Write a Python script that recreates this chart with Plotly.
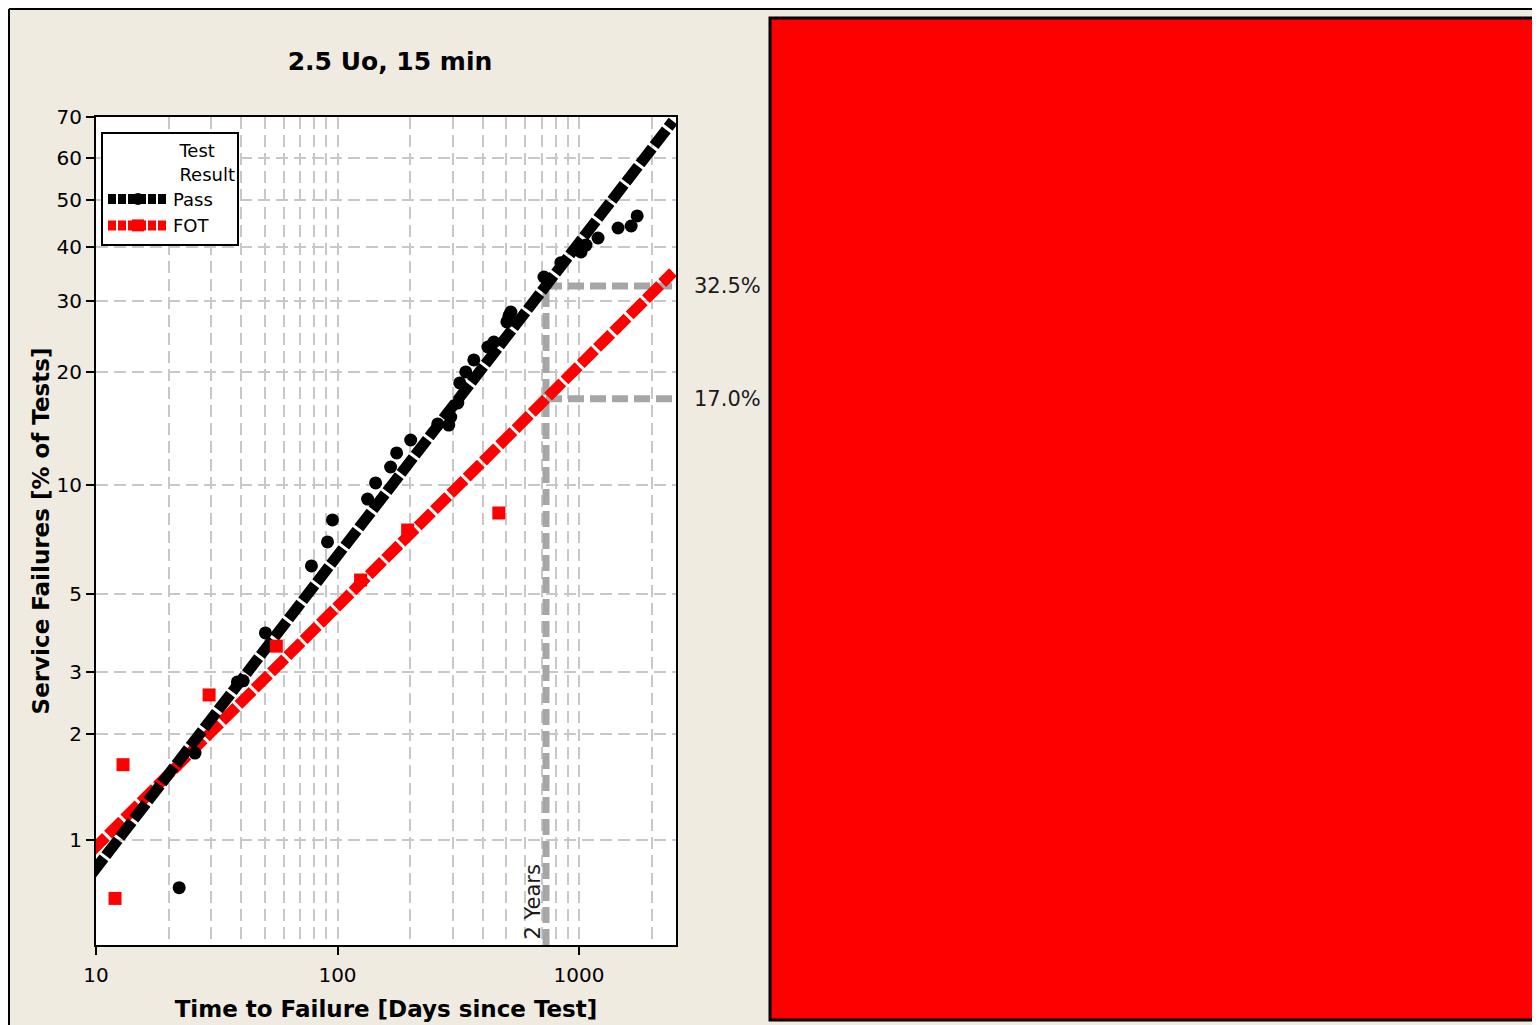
import numpy as np
import plotly.graph_objects as go

# ---------------- data ----------------
pass_days = [22.1, 25.7, 38.5, 40.7, 50.3, 78.0, 90.9, 95.3, 133.2, 143.8, 165.9, 175.7,
             200.9, 260.0, 288.8, 294.4, 314.8, 320.8, 339.7, 366.8, 419.3, 444.0, 502.6,
             512.4, 522.3, 715.9, 841.0, 1019.0, 1069.0, 1199.0, 1451.0, 1644.0, 1741.0]
pass_pct = [0.73, 1.77, 2.82, 2.84, 3.88, 5.98, 6.97, 8.02, 9.15, 10.13, 11.19, 12.21,
            13.23, 14.6, 14.5, 15.23, 16.58, 18.7, 19.96, 21.42, 23.1, 23.77, 26.66,
            27.57, 28.19, 34.13, 36.8, 38.9, 40.3, 41.75, 43.87, 44.3, 46.5]

fot_days = [11.99, 12.94, 29.4, 55.8, 124.6, 195.2, 465.6]
fot_pct = [0.68, 1.64, 2.59, 3.56, 5.46, 7.52, 8.38]

pass_fit_days = [9.6, 2450]
pass_fit_pct = [0.80, 69.0]
fot_fit_days = [9.6, 2450]
fot_fit_pct = [0.93, 35.0]

ref_days = 730          # 2 years
ref_pct = [32.5, 17.0]  # Pass, FOT at 2 years
ref_labels = ["32.5%", "17.0%"]

ytick_pct = [1, 2, 3, 5, 10, 20, 30, 40, 50, 60, 70]
xtick_days = [10, 100, 1000]
y_range_pct = [0.5, 70]
x_range_days = [10, 2521]


def weib(p):
    """Weibull probability scale: ln(-ln(1-F))."""
    p = np.asarray(p, dtype=float) / 100.0
    return np.log(-np.log(1.0 - p))


FONT = "DejaVu Sans"
GRID = "#c8c8c8"
REFC = "#a6a6a6"

fig = go.Figure()

# reference (2 years) lines
fig.add_trace(go.Scatter(
    x=[ref_days, ref_days], y=weib([y_range_pct[0], ref_pct[0]]),
    mode="lines", line=dict(color=REFC, width=7, dash="16px,6px"),
    showlegend=False, hoverinfo="skip"))
hx, hy = [], []
for p in ref_pct:
    hx += [ref_days, x_range_days[1] * 1.05, None]
    hy += [float(weib([p])[0]), float(weib([p])[0]), None]
fig.add_trace(go.Scatter(
    x=hx, y=hy, mode="lines", line=dict(color=REFC, width=7, dash="16px,6px"),
    showlegend=False, hoverinfo="skip"))

# fitted lines
fig.add_trace(go.Scatter(
    x=fot_fit_days, y=weib(fot_fit_pct), mode="lines",
    line=dict(color="#ff0000", width=11, dash="20px,3px"),
    showlegend=False, hoverinfo="skip"))
fig.add_trace(go.Scatter(
    x=pass_fit_days, y=weib(pass_fit_pct), mode="lines",
    line=dict(color="#000000", width=11, dash="20px,3px"),
    showlegend=False, hoverinfo="skip"))

# data points
fig.add_trace(go.Scatter(
    x=pass_days, y=weib(pass_pct), mode="markers",
    marker=dict(symbol="circle", size=13, color="#000000"),
    showlegend=False, name="Pass"))
fig.add_trace(go.Scatter(
    x=fot_days, y=weib(fot_pct), mode="markers",
    marker=dict(symbol="square", size=13, color="#ff0000"),
    showlegend=False, name="FOT"))

# legend entries
fig.add_trace(go.Scatter(
    x=[None], y=[None], mode="lines+markers", name="Pass",
    line=dict(color="#000000", width=10, dash="8px,2px"),
    marker=dict(symbol="circle", size=12, color="#000000")))
fig.add_trace(go.Scatter(
    x=[None], y=[None], mode="lines+markers", name="FOT",
    line=dict(color="#ff0000", width=10, dash="8px,2px"),
    marker=dict(symbol="square", size=12, color="#ff0000")))

# ---------------- layout ----------------
# the page places the figure 8px from the window's top-left corner (body margin)
OX, OY = 8, 8
W, H = 1540 - OX, 1025 - OY
L, T = 96 - OX, 117 - OY
pw, ph = 580, 828
R, B = W - L - pw, H - T - ph


def px_x(px):
    """window pixel x -> paper x"""
    return (px - OX - L) / pw


def px_y(py):
    """window pixel y -> paper y"""
    return (T + ph - (py - OY)) / ph


shapes = [
    # frame lines
    dict(type="line", xref="paper", yref="paper", x0=px_x(9), x1=px_x(9),
         y0=px_y(1025), y1=px_y(9), line=dict(color="#000", width=2)),
    dict(type="line", xref="paper", yref="paper", x0=px_x(9), x1=px_x(1540),
         y0=px_y(9), y1=px_y(9), line=dict(color="#000", width=2)),
    # red panel on the right
    dict(type="rect", xref="paper", yref="paper", x0=px_x(770), x1=px_x(1537),
         y0=px_y(1020), y1=px_y(18), fillcolor="#ff0000", line=dict(color="#000", width=3)),
]

annotations = []
for lab, p in zip(ref_labels, ref_pct):
    annotations.append(dict(
        x=px_x(692), xref="paper", y=float(weib([p])[0]), yref="y",
        text=lab, showarrow=False, xanchor="left", yanchor="middle",
        font=dict(family=FONT, size=21, color="#1a1a1a")))
annotations.append(dict(
    x=np.log10(ref_days), xref="x", y=0, yref="paper", text="2 Years",
    textangle=-90, showarrow=False, xanchor="center", yanchor="bottom",
    xshift=-14, yshift=3, font=dict(family=FONT, size=21, color="#1a1a1a")))

nb = "\u00a0" * 13
fig.update_layout(
    width=W, height=H, autosize=False,
    margin=dict(l=L, r=R, t=T, b=B, pad=0, autoexpand=False),
    paper_bgcolor="#efebe0", plot_bgcolor="#ffffff",
    font=dict(family=FONT, size=20, color="#000"),
    title=dict(text="<b>2.5 Uo, 15 min</b>", x=px_x(390), xref="paper", xanchor="center",
               y=1 - (61 - OY) / H, yanchor="middle",
               font=dict(family=FONT, size=25, color="#000")),
    showlegend=True,
    legend=dict(x=px_x(101), y=px_y(132), xanchor="left", yanchor="top",
                bgcolor="#ffffff", bordercolor="#000000", borderwidth=2,
                font=dict(family=FONT, size=18, color="#000"),
                title=dict(text=nb + "Test<br>" + nb + "Result", side="top",
                           font=dict(family=FONT, size=18, color="#000")),
                itemwidth=60, tracegroupgap=0),
    shapes=shapes, annotations=annotations,
)

fig.update_xaxes(
    type="log", range=[np.log10(x_range_days[0]), np.log10(x_range_days[1])],
    automargin=False,
    tickvals=xtick_days, ticktext=[str(v) for v in xtick_days],
    ticks="outside", ticklen=8, tickwidth=2, tickcolor="#000", ticklabelstandoff=3,
    showline=True, linewidth=2, linecolor="#000", mirror=True,
    showgrid=True, gridcolor=GRID, gridwidth=2, griddash="12px,6px",
    minor=dict(dtick="D1", showgrid=True, gridcolor=GRID, gridwidth=2,
               griddash="12px,6px", ticks=""),
    zeroline=False,
    tickfont=dict(family=FONT, size=20, color="#000"),
    title=dict(text="<b>Time to Failure [Days since Test]</b>", standoff=15,
               font=dict(family=FONT, size=23, color="#000")),
)
fig.update_yaxes(
    range=[float(weib([y_range_pct[0]])[0]), float(weib([y_range_pct[1]])[0])],
    automargin=False,
    tickvals=weib(ytick_pct), ticktext=[str(v) for v in ytick_pct],
    ticks="outside", ticklen=8, tickwidth=2, tickcolor="#000",
    showline=True, linewidth=2, linecolor="#000", mirror=True,
    showgrid=True, gridcolor=GRID, gridwidth=2, griddash="12px,6px",
    zeroline=False,
    tickfont=dict(family=FONT, size=20, color="#000"),
    title=dict(text="<b>Service Failures [% of Tests]</b>", standoff=0,
               font=dict(family=FONT, size=23, color="#000")),
)

fig.write_html("out.html")
